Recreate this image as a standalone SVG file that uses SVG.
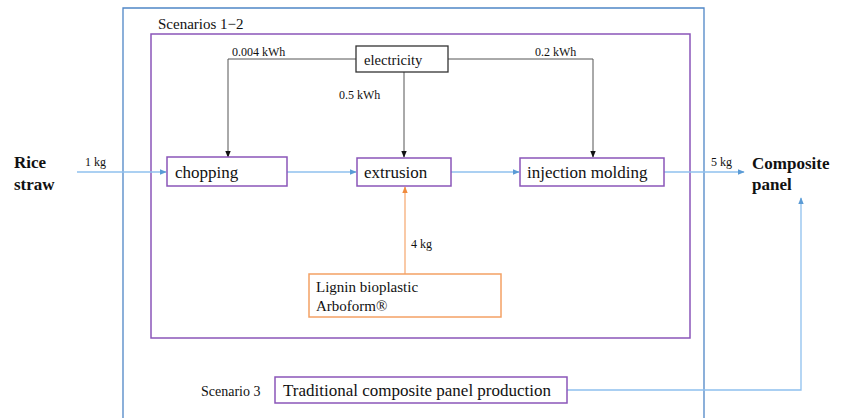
<svg xmlns="http://www.w3.org/2000/svg" width="842" height="418" viewBox="0 0 842 418" font-family="'Liberation Serif', 'DejaVu Serif', serif">
  <style>
    text { font-family: 'Liberation Serif', 'DejaVu Serif', serif; fill: #111; }
    .node { fill: #fff; stroke: #8a56b9; stroke-width: 1.5; }
    .elec { fill: #fff; stroke: #333; stroke-width: 1.3; }
    .lig { fill: #fff; stroke: #f4a164; stroke-width: 1.5; }
    .flow { fill: none; stroke: #8fc0ee; stroke-width: 1.3; }
    .power { fill: none; stroke: #555; stroke-width: 1; }
    .feed { fill: none; stroke: #f6ad78; stroke-width: 1.3; }
    .lbl { font-size: 12px; }
    .big { font-size: 17px; }
    .bold { font-size: 17px; font-weight: bold; }
  </style>
  <defs>
    <marker id="arrBlue" viewBox="0 0 10 10" refX="9" refY="5" markerWidth="7" markerHeight="7" orient="auto" markerUnits="userSpaceOnUse">
      <path d="M0,1 L10,5 L0,9 z" fill="#5b9bd5"/>
    </marker>
    <marker id="arrDark" viewBox="0 0 10 10" refX="9" refY="5" markerWidth="7" markerHeight="7" orient="auto" markerUnits="userSpaceOnUse">
      <path d="M0,1 L10,5 L0,9 z" fill="#111"/>
    </marker>
    <marker id="arrOrange" viewBox="0 0 10 10" refX="9" refY="5" markerWidth="7" markerHeight="7" orient="auto" markerUnits="userSpaceOnUse">
      <path d="M0,1 L10,5 L0,9 z" fill="#f08a3c"/>
    </marker>
  </defs>

  <rect width="842" height="418" fill="#fff"/>

  <!-- system boundaries -->
  <g id="boundary">
    <path d="M123,430 V8 H704 V430" fill="none" stroke="#4f86c6" stroke-width="1.3"/>
    <rect x="151" y="34" width="539" height="304" fill="none" stroke="#8a56b9" stroke-width="1.5"/>
    <text x="158" y="29" font-size="15">Scenarios  1−2</text>
  </g>

  <!-- connectors -->
  <g id="connectors">
    <path class="flow" d="M77,172 H166" marker-end="url(#arrBlue)"/>
    <path class="flow" d="M287,172 H356" marker-end="url(#arrBlue)"/>
    <path class="flow" d="M451,172 H519" marker-end="url(#arrBlue)"/>
    <path class="flow" d="M664,172 H744" marker-end="url(#arrBlue)"/>
    <path class="flow" d="M567,390 H801 V198" marker-end="url(#arrBlue)"/>
    <path class="power" d="M356,59 H228 V157" marker-end="url(#arrDark)"/>
    <path class="power" d="M448,59 H593 V157" marker-end="url(#arrDark)"/>
    <path class="power" d="M404,72 V157" marker-end="url(#arrDark)"/>
    <path class="feed" d="M405,274 V187" marker-end="url(#arrOrange)"/>
    <text class="lbl" x="85" y="166">1 kg</text>
    <text class="lbl" x="232" y="56">0.004 kWh</text>
    <text class="lbl" x="535" y="56">0.2 kWh</text>
    <text class="lbl" x="339" y="99">0.5 kWh</text>
    <text class="lbl" x="411" y="248">4 kg</text>
    <text class="lbl" x="711" y="166">5 kg</text>
  </g>

  <g id="rice-straw">
    <text class="bold" x="14" y="168">Rice</text>
    <text class="bold" x="14" y="190">straw</text>
  </g>

  <g id="electricity">
    <rect class="elec" x="356" y="46" width="92" height="26"/>
    <text x="364" y="65" font-size="14.6">electricity</text>
  </g>

  <g id="chopping">
    <rect class="node" x="167" y="157" width="120" height="29"/>
    <text class="big" x="175" y="178">chopping</text>
  </g>

  <g id="extrusion">
    <rect class="node" x="357" y="158" width="94" height="28"/>
    <text class="big" x="364" y="178">extrusion</text>
  </g>

  <g id="injection-molding">
    <rect class="node" x="520" y="158" width="144" height="28"/>
    <text class="big" x="527" y="178">injection molding</text>
  </g>

  <g id="composite-panel">
    <text class="bold" x="752" y="169">Composite</text>
    <text class="bold" x="752" y="190">panel</text>
  </g>

  <g id="lignin">
    <rect class="lig" x="309" y="274" width="192" height="43"/>
    <text x="316" y="292" font-size="15">Lignin bioplastic</text>
    <text x="316" y="311" font-size="15">Arboform®</text>
  </g>

  <g id="scenario-3">
    <text x="201" y="396" font-size="14">Scenario  3</text>
    <rect class="node" x="275" y="377" width="292" height="26"/>
    <text x="283" y="396" font-size="17">Traditional composite panel production</text>
  </g>
</svg>
